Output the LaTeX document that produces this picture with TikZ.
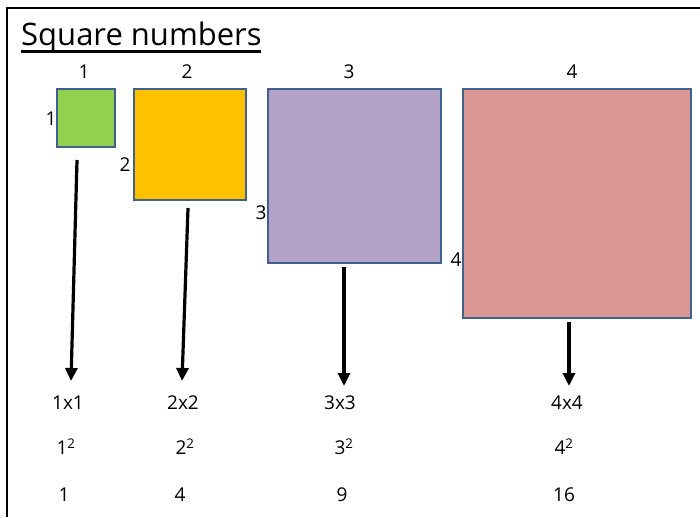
\documentclass[tikz,border=0pt]{standalone}
\usepackage{fontspec}
\setmainfont{Open Sans}
\usetikzlibrary{arrows.meta}
\definecolor{sqedge}{HTML}{3F6190}
\definecolor{cgreen}{HTML}{92D050}
\definecolor{corange}{HTML}{FFC000}
\definecolor{cpurple}{HTML}{B3A2C7}
\definecolor{cpink}{HTML}{D99694}
\begin{document}
\begin{tikzpicture}[x=1pt,y=-1pt,
  sq/.style={draw=sqedge,line width=1.8pt},
  lbl/.style={font=\fontsize{19}{21}\selectfont,inner sep=0pt},
  row/.style={font=\fontsize{19}{21}\selectfont,inner sep=0pt},
  arr/.style={-{Triangle[length=13pt,width=12pt]},line width=3.2pt}]
\useasboundingbox (0,0) rectangle (700,517);
\draw[line width=1.8pt] (7,517) -- (7,8) -- (700,8);
\node[anchor=base west,inner sep=0pt,font=\fontsize{31}{34}\selectfont] (title) at (21,45) {Square numbers};
\draw[line width=3.5pt] (21,51.5) -- (261,51.5);
% squares
\draw[sq,fill=cgreen] (57,89) rectangle (115,147);
\coordinate (s1) at (77,160);
\draw[sq,fill=corange] (134,89) rectangle (246,200);
\coordinate (s2) at (188,208);
\draw[sq,fill=cpurple] (268,89) rectangle (441,263);
\coordinate (s3) at (344,267);
\draw[sq,fill=cpink] (463,89) rectangle (691,318);
\coordinate (s4) at (569,322);
% top labels
\node[lbl] (t1) at (84,72) {1};
\node[lbl] (t2) at (187,72) {2};
\node[lbl] (t3) at (349,72) {3};
\node[lbl] (t4) at (572,72) {4};
% side labels
\node[lbl] (l1) at (51,119) {1};
\node[lbl] (l2) at (125,165) {2};
\node[lbl] (l3) at (261,213) {3};
\node[lbl] (l4) at (456,260) {4};
% row 1
\node[row] (a1) at (68,403) {1x1};
\node[row] (a2) at (183,403) {2x2};
\node[row] (a3) at (340,403) {3x3};
\node[row] (a4) at (567,403) {4x4};
% row 2
\node[row] (b1) at (66,447) {1\textsuperscript{2}};
\node[row] (b2) at (185,447) {2\textsuperscript{2}};
\node[row] (b3) at (344,447) {3\textsuperscript{2}};
\node[row] (b4) at (564,447) {4\textsuperscript{2}};
% row 3
\node[row] (c1) at (64,495) {1};
\node[row] (c2) at (180,495) {4};
\node[row] (c3) at (342,495) {9};
\node[row] (c4) at (564,495) {16};
% arrows
\coordinate (e1) at (71,381);
\coordinate (e2) at (182,381);
\coordinate (e3) at (344,386);
\coordinate (e4) at (569,386);
\draw[arr] (s1) -- (e1);
\draw[arr] (s2) -- (e2);
\draw[arr] (s3) -- (e3);
\draw[arr] (s4) -- (e4);
\end{tikzpicture}
\end{document}
